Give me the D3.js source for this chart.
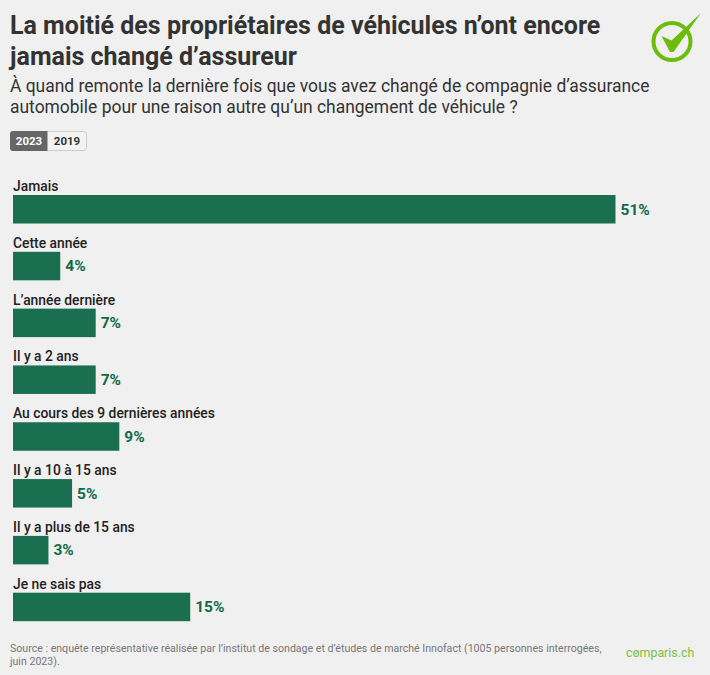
<!DOCTYPE html>
<html><head><meta charset="utf-8">
<script src="https://cdn.jsdelivr.net/npm/d3@7"></script>
<style>html,body{margin:0;padding:0;background:#f0f0f0;overflow:hidden}svg{display:block;font-family:Roboto,sans-serif}</style>
</head><body><div id="c"></div>
<script>
const categories=["Jamais","Cette année","L’année dernière","Il y a 2 ans","Au cours des 9 dernières années","Il y a 10 à 15 ans","Il y a plus de 15 ans","Je ne sais pas"];
const values=[51,4,7,7,9,5,3,15];
const titleLines=["La moitié des propriétaires de véhicules n’ont encore","jamais changé d’assureur"];
const subtitleLines=["À quand remonte la dernière fois que vous avez changé de compagnie d’assurance","automobile pour une raison autre qu’un changement de véhicule ?"];
const sourceLines=["Source : enquête représentative réalisée par l’institut de sondage et d’études de marché Innofact (1005 personnes interrogées,","juin 2023)."];
const years=["2023","2019"];

const svg=d3.select("#c").append("svg").attr("width",710).attr("height",675);
svg.append("rect").attr("width",710).attr("height",675).attr("fill","#f0f0f0");

const x=d3.scaleLinear().domain([0,51]).range([13,615.5]);
const y=d3.scaleBand().domain(categories).range([176.5,631]);

svg.selectAll(".t").data(titleLines).join("text").attr("class","t")
 .attr("x",10).attr("y",(d,i)=>34+i*30.5).attr("font-size",25).attr("font-weight",700).attr("fill","#333").text(d=>d);
svg.selectAll(".s").data(subtitleLines).join("text").attr("class","s")
 .attr("x",10).attr("y",(d,i)=>92+i*21).attr("font-size",17.45).attr("fill","#333").text(d=>d);

// year toggle
const g=svg.append("g");
g.append("rect").attr("x",10.5).attr("y",131.5).attr("width",76).attr("height",19).attr("rx",3).attr("fill","#f3f3f3").attr("stroke","#ccc");
g.append("path").attr("d","M47.5 131H13a3 3 0 0 0-3 3v14a3 3 0 0 0 3 3h34.5z").attr("fill","#666");
g.selectAll("text").data(years).join("text").attr("x",(d,i)=>i?67:29).attr("y",144.5)
 .attr("text-anchor","middle").attr("font-size",11.5).attr("font-weight",700)
 .attr("fill",(d,i)=>i?"#333":"#fff").text(d=>d);

// rows
const row=svg.selectAll(".row").data(categories).join("g").attr("class","row")
 .attr("transform",d=>`translate(0,${y(d)})`);
row.append("text").attr("x",13).attr("y",14.5).attr("font-size",13.85).attr("font-weight",500).attr("fill","#222").text(d=>d);
row.append("rect").attr("x",x(0)).attr("y",18.5).attr("height",28.5)
 .attr("width",(d,i)=>x(values[i])-x(0)).attr("fill","#1a6f50");
row.append("text").attr("x",(d,i)=>x(values[i])+5).attr("y",38).attr("font-size",15.5).attr("font-weight",700)
 .attr("fill","#0f6a47").text((d,i)=>values[i]+"%");

// source
svg.selectAll(".src").data(sourceLines).join("text").attr("class","src")
 .attr("x",10).attr("y",(d,i)=>652+i*13).attr("font-size",10.6).attr("fill","#777").text(d=>d);

// logo mark
const logo=svg.append("g");
logo.append("circle").attr("cx",672).attr("cy",41.5).attr("r",18.5).attr("fill","none").attr("stroke","#6cbd0a").attr("stroke-width",4);
logo.append("path").attr("d","M661.5 36L671.5 40.5L701 13L673.5 52L670 52Z").attr("fill","#6cbd0a");

// wordmark
svg.append("text").attr("x",626).attr("y",657).attr("font-size",12.4).attr("fill","#7ac143").text("comparis.ch");
svg.append("path").attr("d","M634.3 652.5L635.7 654.3L638.5 650.8").attr("fill","none").attr("stroke","#7ac143").attr("stroke-width",1);
</script></body></html>
